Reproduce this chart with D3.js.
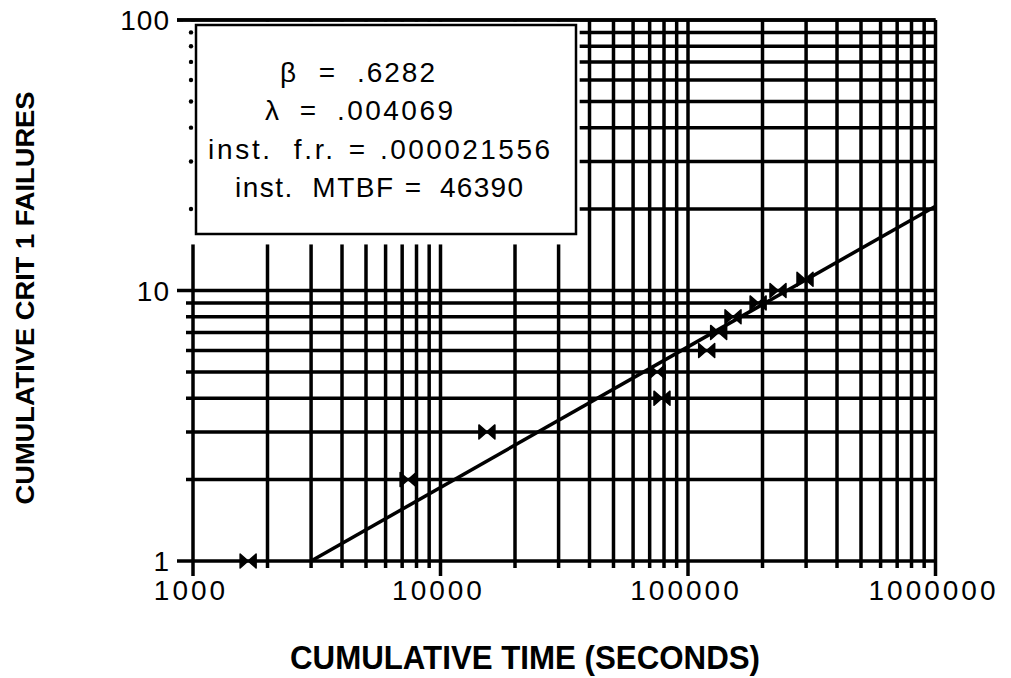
<!DOCTYPE html>
<html><head><meta charset="utf-8">
<script src="https://cdn.jsdelivr.net/npm/d3@7"></script>
<style>
body{margin:0;background:#fff}
svg{display:block}
text{font-family:"Liberation Sans",Arial,Helvetica,sans-serif;fill:#000}
</style>
</head><body><svg id="c" width="1011" height="678"></svg>
<script>
// ---- data ----
const failureTimes = [1670, 7400, 15400, 78500, 75000, 119000, 133000, 152000, 192000, 231000, 297000];
const cumulativeFailures = [1, 2, 3, 4, 5, 6, 7, 8, 9, 10, 11];
const fitTimes = [3000, 1000000];
const fitFailures = [1, 20.5];
const xTickValues = [1000, 10000, 100000, 1000000];
const xTickLabels = ["1000", "10000", "100000", "1000000"];
const yTickValues = [1, 10, 100];
const yTickLabels = ["1", "10", "100"];
const statLabels = ["β", "λ", "inst.  f.r.", "inst.  MTBF"];
const statValues = [".6282", ".004069", ".000021556", "46390"];
const xTitle = "CUMULATIVE TIME (SECONDS)";
const yTitle = "CUMULATIVE CRIT 1 FAILURES";

// ---- layout ----
const svg = d3.select("#c");
const x = d3.scaleLog().domain([1000, 1000000]).range([193, 935.5]);
const y = d3.scaleLog().domain([1, 100]).range([561, 20]);
const SW = 3.5;
const isMajor = v => Math.abs(Math.log10(v) - Math.round(Math.log10(v))) < 1e-9;

const grid = svg.append("g").attr("stroke", "#000").attr("stroke-width", SW).attr("stroke-linecap", "butt");
// vertical grid
grid.selectAll("line.v").data(x.ticks()).join("line").attr("class", "v")
  .attr("x1", d => x(d)).attr("x2", d => x(d))
  .attr("y1", y(100)).attr("y2", d => y(1) + (isMajor(d) ? 15 : 7));
// horizontal grid
grid.selectAll("line.h").data(y.ticks()).join("line").attr("class", "h")
  .attr("y1", d => y(d)).attr("y2", d => y(d))
  .attr("x1", d => x(1000) - (isMajor(d) ? 16 : 7)).attr("x2", x(1000000));

// white area behind the statistics box
const boxLeft = x(1000) - 10, boxRight = x(36500), boxTop = y(100) + 1.8, boxBottom = y(14.8);
svg.append("rect").attr("x", boxLeft).attr("y", boxTop)
  .attr("width", boxRight - boxLeft).attr("height", boxBottom - boxTop).attr("fill", "#fff");
// left-axis dots where the minor lines are hidden
svg.append("g").selectAll("circle").data(y.ticks().filter(d => d > 10 && d < 100)).join("circle")
  .attr("cx", x(1000) - 2).attr("cy", d => y(d)).attr("r", 2.2).attr("fill", "#000");
// top line again (full)
svg.append("line").attr("x1", x(1000) - 16).attr("x2", x(1000000)).attr("y1", y(100)).attr("y2", y(100))
  .attr("stroke", "#000").attr("stroke-width", SW);
// the stats box border
svg.append("rect").attr("x", 196).attr("y", 25).attr("width", 380).attr("height", 209)
  .attr("fill", "#fff").attr("stroke", "#000").attr("stroke-width", 2.5);

// stats text
const statLayout = [
  {lx: 280, eq: 327, vx: 357, base: 82, lw: null, vw: 78},
  {lx: 265, eq: 308, vx: 337, base: 120, lw: null, vw: 116},
  {lx: 208, eq: 357, vx: 380, base: 159, lw: 125, vw: 170},
  {lx: 235, eq: 413, vx: 440, base: 197, lw: 158, vw: 83}
];
const st = svg.append("g").style("font-size", "28px");
statLabels.forEach((lab, i) => {
  const L = statLayout[i];
  const t = st.append("text").attr("x", L.lx).attr("y", L.base).attr("xml:space", "preserve").text(lab);
  if (L.lw) t.attr("textLength", L.lw).attr("lengthAdjust", "spacing");
  st.append("text").attr("x", L.eq).attr("y", L.base).attr("text-anchor", "middle").text("=");
  st.append("text").attr("x", L.vx).attr("y", L.base).attr("textLength", L.vw)
    .attr("lengthAdjust", "spacing").text(statValues[i]);
});

// fitted line
const line = d3.line().x((d, i) => x(fitTimes[i])).y(d => y(d));
svg.append("path").attr("d", line(fitFailures)).attr("fill", "none")
  .attr("stroke", "#000").attr("stroke-width", 3.5);

// markers
const bow = "M-8,-7L8,7L8,-7L-8,7Z";
svg.append("g").selectAll("path").data(failureTimes).join("path")
  .attr("d", bow)
  .attr("transform", (d, i) => `translate(${x(d)},${y(cumulativeFailures[i])})`)
  .attr("fill", "#000").attr("stroke", "#000").attr("stroke-width", 1.5).attr("stroke-linejoin", "round");

// tick labels
svg.append("g").style("font-size", "28px").style("letter-spacing", "1px").selectAll("text").data(yTickValues).join("text")
  .attr("x", 170).attr("y", d => y(d) + 10).attr("text-anchor", "end")
  .text((d, i) => yTickLabels[i]);
svg.append("g").style("font-size", "28px").style("letter-spacing", "3px").selectAll("text").data(xTickValues).join("text")
  .attr("x", d => x(d) - 2).attr("y", 600).attr("text-anchor", "middle")
  .text((d, i) => xTickLabels[i]);

// axis titles
svg.append("text").attr("x", 525).attr("y", 669).attr("text-anchor", "middle")
  .style("font-size", "33px").style("font-weight", "bold")
  .attr("textLength", 470).attr("lengthAdjust", "spacingAndGlyphs").text(xTitle);
svg.append("text").attr("transform", "translate(34,298) rotate(-90)").attr("text-anchor", "middle")
  .style("font-size", "25px").style("font-weight", "bold")
  .attr("textLength", 413).attr("lengthAdjust", "spacingAndGlyphs").text(yTitle);
</script>
</body></html>
